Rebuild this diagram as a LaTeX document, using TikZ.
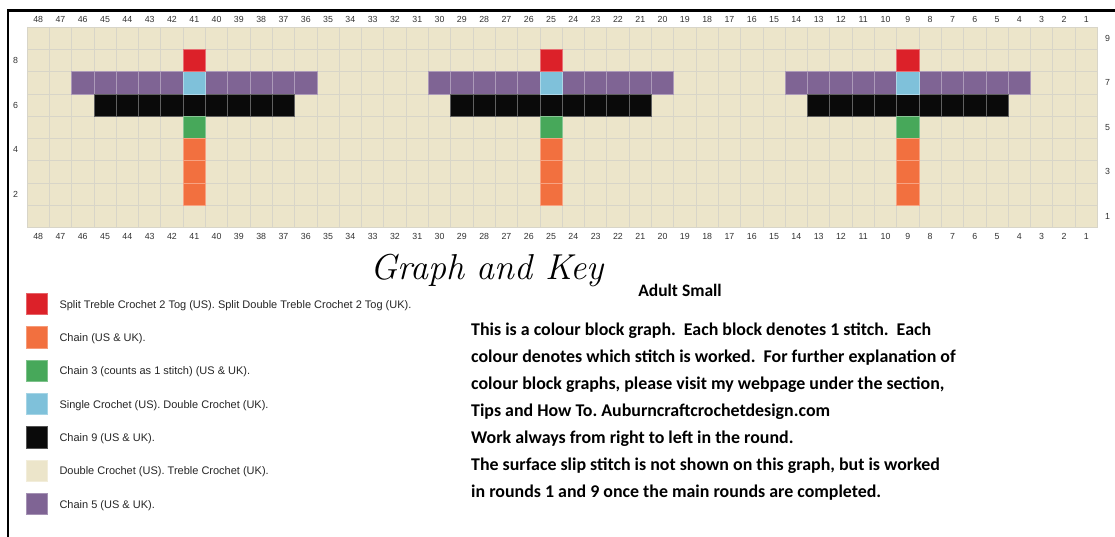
\documentclass[tikz,border=0pt]{standalone}
\usepackage{fontspec}
\setsansfont{Liberation Sans}
\newfontfamily\calib{Carlito}
\frenchspacing
\definecolor{cred}{RGB}{220,33,41}
\definecolor{cblue}{RGB}{127,193,218}
\definecolor{cpurple}{RGB}{127,100,148}
\definecolor{cblack}{RGB}{10,10,10}
\definecolor{cgreen}{RGB}{71,168,90}
\definecolor{corange}{RGB}{242,112,63}
\definecolor{ccream}{RGB}{236,229,202}
\definecolor{cgrid}{RGB}{216,213,200}
\definecolor{clabel}{RGB}{50,50,50}
\tikzset{
  axislabel/.style={font=\sffamily\fontsize{8.8}{9}\selectfont, text=clabel, inner sep=0pt},
  keytext/.style={font=\sffamily\fontsize{11}{12}\selectfont, text=black!85, anchor=base west, inner sep=0pt},
  keybox/.style={minimum width=21.5pt, minimum height=21.5pt, inner sep=0pt, draw=#1!70!white, fill=#1, line width=0.6pt},
  bodytext/.style={font=\calib\bfseries\fontsize{17.9}{20}\selectfont, anchor=base west, inner sep=0pt},
  cell/.style={fill=#1, draw=#1!65!white, line width=0.7pt}
}
\begin{document}
\begin{tikzpicture}[x=1pt,y=-1pt]
\useasboundingbox (0,0) rectangle (1115,537);
\fill[white] (0,0) rectangle (1115,537);
% frame
\draw[line width=2.2pt] (8.3,537) -- (8.3,10.5) -- (1115,10.5);
% grid
\def\cw{22.3}
\def\gx{27}
\def\gy{27}
\fill[ccream] (\gx,\gy) rectangle ({\gx+48*\cw},{\gy+9*\cw});
\foreach \i in {0,...,48} {
  \draw[cgrid, line width=0.7pt] ({\gx+\i*\cw},\gy) -- ({\gx+\i*\cw},{\gy+9*\cw});
}
\foreach \j in {0,...,9} {
  \draw[cgrid, line width=0.7pt] (\gx,{\gy+\j*\cw}) -- ({\gx+48*\cw},{\gy+\j*\cw});
}
% column labels
\foreach \i in {0,...,47} {
  \pgfmathtruncatemacro{\n}{48-\i}
  \node[axislabel] (top\n) at ({\gx+(\i+0.5)*\cw},19.5) {\n};
  \node[axislabel] (bot\n) at ({\gx+(\i+0.5)*\cw},236.5) {\n};
}
% row labels
\foreach \r in {2,4,6,8} {
  \node[axislabel] (left\r) at (15.5,{\gy+(9-\r+0.5)*\cw}) {\r};
}
\foreach \r in {1,3,5,7,9} {
  \node[axislabel] (right\r) at (1107.5,{\gy+(9-\r+0.5)*\cw}) {\r};
}
% dragonflies: column number c -> index 48-c ; row r -> 9-r
\newcommand{\cellat}[3]{%
  \pgfmathsetmacro{\xa}{\gx+(48-#1)*\cw}%
  \pgfmathsetmacro{\ya}{\gy+(9-#2)*\cw}%
  \draw[cell=#3] (\xa,\ya) rectangle ({\xa+\cw},{\ya+\cw});}
\foreach \c in {41,25,9} {
  \foreach \d in {-5,...,5} {
    \pgfmathtruncatemacro{\cc}{\c+\d}
    \cellat{\cc}{7}{cpurple}
  }
  \foreach \d in {-4,...,4} {
    \pgfmathtruncatemacro{\cc}{\c+\d}
    \cellat{\cc}{6}{cblack}
  }
  \cellat{\c}{7}{cblue}
  \cellat{\c}{8}{cred}
  \cellat{\c}{5}{cgreen}
  \cellat{\c}{4}{corange}
  \cellat{\c}{3}{corange}
  \cellat{\c}{2}{corange}
}
% title
\node[font=\rmfamily\itshape\fontsize{36}{38}\selectfont, anchor=base, inner sep=0pt] (title) at (487,279) {Graph and Key};
% key
\node[keybox=cred]    (k1) at (37,304) {};
\node[keybox=corange] (k2) at (37,337.3) {};
\node[keybox=cgreen]  (k3) at (37,370.7) {};
\node[keybox=cblue]   (k4) at (37,404) {};
\node[keybox=cblack]  (k5) at (37,437.3) {};
\node[keybox=ccream]  (k6) at (37,470.7) {};
\node[keybox=cpurple] (k7) at (37,504) {};
\node[keytext] (t1) at (59.3,308) {Split Treble Crochet 2 Tog (US). Split Double Treble Crochet 2 Tog (UK).};
\node[keytext] (t2) at (59.3,341.3) {Chain (US \& UK).};
\node[keytext] (t3) at (59.3,374.7) {Chain 3 (counts as 1 stitch) (US \& UK).};
\node[keytext] (t4) at (59.3,408) {Single Crochet (US). Double Crochet (UK).};
\node[keytext] (t5) at (59.3,441.3) {Chain 9 (US \& UK).};
\node[keytext] (t6) at (59.3,474.7) {Double Crochet (US). Treble Crochet (UK).};
\node[keytext] (t7) at (59.3,508) {Chain 5 (US \& UK).};
% text
\node[font=\calib\bfseries\fontsize{17.5}{19}\selectfont, anchor=base, inner sep=0pt] (adult) at (680,296.7) {Adult Small};
\node[bodytext] (l1) at (471,335) {This is a colour block graph.\ \ Each block denotes 1 stitch.\ \ Each};
\node[bodytext] (l2) at (471,362) {colour denotes which stitch is worked.\ \ For further explanation of};
\node[bodytext] (l3) at (471,389) {colour block graphs, please visit my webpage under the section,};
\node[bodytext] (l4) at (471,416) {Tips and How To. Auburncraftcrochetdesign.com};
\node[bodytext] (l5) at (471,443) {Work always from right to left in the round.};
\node[bodytext] (l6) at (471,470) {The surface slip stitch is not shown on this graph, but is worked};
\node[bodytext] (l7) at (471,497) {in rounds 1 and 9 once the main rounds are completed.};
\end{tikzpicture}
\end{document}
